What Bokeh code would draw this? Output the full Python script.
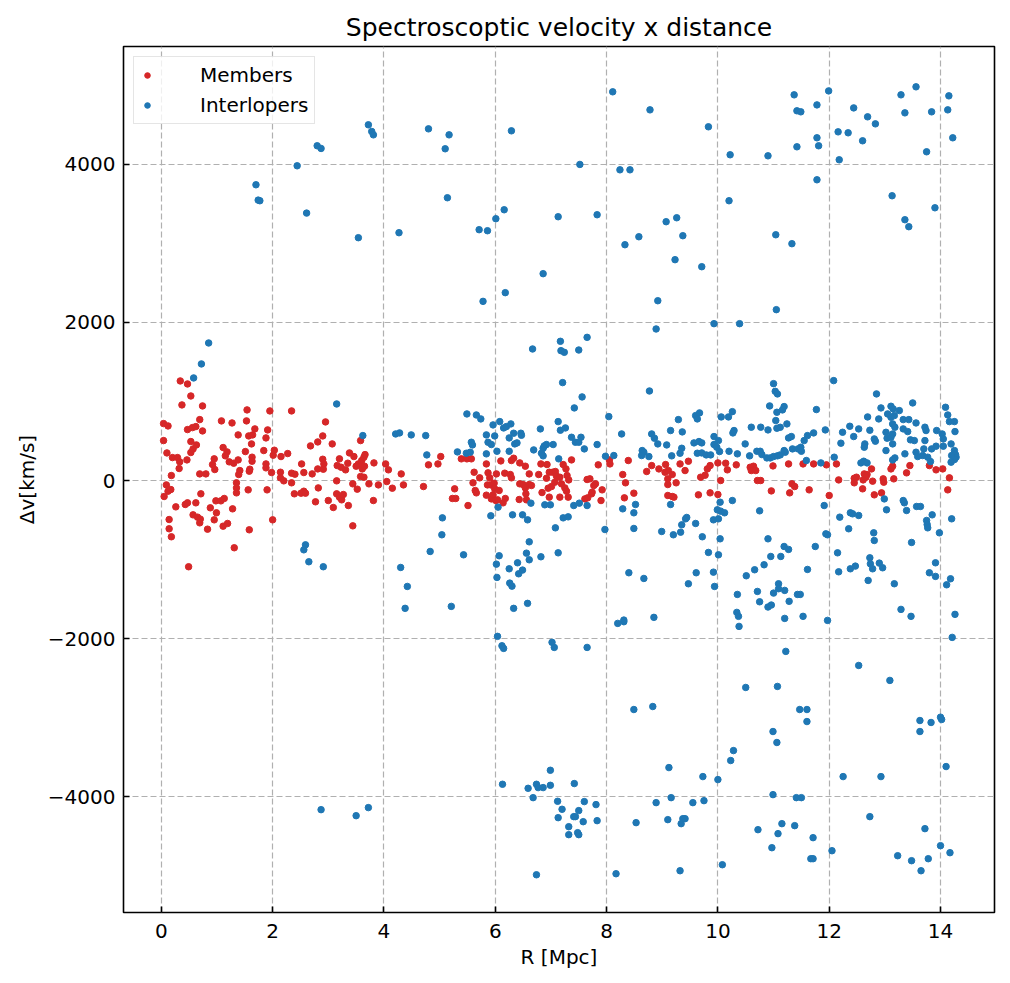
from bokeh.plotting import figure
from bokeh.models import Range1d, FixedTicker
from bokeh.embed import file_html
from bokeh.resources import INLINE

# ---- data ----
members = [
    (0.34,1259),(0.47,1221),(0.53,1069),(0.37,956),(0.74,943),(0.04,720),(0.12,690),(0.69,770),
    (0.47,644),(0.56,669),(0.62,682),(0.74,627),(1.08,754),(1.27,728),(1.53,754),(1.54,893),
    (1.95,880),(2.34,880),(1.68,653),(1.38,577),(1.57,564),(1.64,577),(1.62,463),(1.88,539),
    (1.91,640),(0.04,505),(0.10,349),(0.20,290),(0.29,290),(0.33,236),(0.32,152),(0.46,261),
    (0.53,354),(0.57,400),(0.53,493),(0.63,450),(0.18,63),(0.69,84),(0.80,84),(0.95,274),
    (0.92,202),(0.96,139),(1.11,417),(1.18,362),(1.15,312),(1.22,236),(1.30,219),(1.38,261),
    (1.41,126),(1.39,76),(1.35,-29),(1.35,-93),(1.35,-156),(1.51,366),(1.63,295),(1.63,244),
    (1.59,143),(1.58,118),(1.56,-118),(1.84,379),(1.88,210),(1.88,160),(1.98,101),(1.90,-118),
    (2.01,320),(2.03,383),(2.15,303),(2.27,341),(2.14,105),(2.14,34),(2.20,-4),(2.34,93),
    (2.40,80),(2.34,-29),(2.52,210),(2.56,101),(2.39,-168),(2.51,-160),(2.56,-135),(2.59,-160),
    (0.09,-55),(0.17,-114),(0.12,-135),(0.05,-202),(0.26,-333),(0.43,-303),(0.47,-282),(0.62,-282),
    (0.71,-168),(0.57,-434),(0.65,-463),(0.70,-488),(0.69,-535),(0.88,-345),(0.99,-408),(0.95,-497),
    (0.83,-615),(0.98,-257),(1.07,-257),(1.13,-227),(1.11,-577),(1.19,-543),(1.28,-358),(1.31,-850),
    (1.58,-623),(2.00,-497),(0.14,-493),(0.14,-610),(0.18,-711),(0.49,-1090),(2.68,438),(2.81,488),
    (2.90,564),(2.95,741),(3.07,463),(2.90,269),(2.92,210),(2.91,143),(2.81,147),(2.71,84),
    (3.15,-4),(3.16,189),(3.20,274),(3.23,168),(3.31,135),(3.38,349),(3.35,219),(2.82,-93),
    (3.00,-253),(3.15,-168),(3.20,-210),(3.24,-244),(3.27,-177),(3.09,-341),(3.36,-316),(2.77,-269),
    (3.44,-42),(3.44,-573),
    (3.46,303),(3.54,210),(3.60,253),(3.64,295),(3.66,328),(3.50,181),(3.61,147),(3.65,181),
    (3.58,51),(3.64,42),(3.52,-109),(3.58,505),(3.81,-253),(3.73,-42),(3.90,-55),(3.82,223),
    (4.03,210),(4.08,135),(4.05,-13),(4.15,-97),(4.31,84),(4.35,-55),(4.71,-76),(4.80,198),
    (4.97,210),(5.02,303),(5.39,274),(5.49,274),(5.57,274),(5.27,-105),(5.23,-227),(5.29,-227),
    (5.51,-316),(5.62,105),(5.60,-29),(5.64,-126),(5.66,-156),(5.72,34),(5.84,210),(5.87,97),
    (5.90,34),(5.86,-55),(5.92,-55),(5.98,-34),(5.84,-185),(5.93,-232),(5.96,-181),(6.01,-253),
    (6.04,-244),(5.99,-105),(6.07,-126),(6.02,84),(6.10,248),(6.17,93),(6.18,-227),(6.14,-282),
    (6.29,253),(6.33,282),(6.27,76),(6.29,34),(6.44,223),(6.54,181),(6.61,84),(6.44,-42),
    (6.50,-51),(6.54,-93),(6.61,-51),(6.65,-63),(6.55,-168),(6.56,-244),(6.43,-240),(6.78,76),
    (6.82,210),(6.93,202),(6.97,105),(6.92,29),(6.84,-152),(6.95,-97),(7.01,-76),(6.97,-210),
    (7.03,105),(7.08,114),(7.10,55),(7.07,-21),(7.16,42),(7.19,-42),(7.22,202),(7.27,147),
    (7.29,63),(7.25,-93),(7.28,-135),(7.31,-210),(7.16,-210),(7.37,261),(7.32,8),
    (7.65,13),(7.70,21),(7.61,-232),(7.66,-219),(7.73,-168),(7.77,-63),(7.80,-42),(7.74,-147),
    (7.92,-118),(7.90,-253),(7.85,198),(8.05,261),(8.06,210),(8.39,253),(8.29,76),(8.34,-29),
    (8.32,-219),(8.49,-160),(8.72,114),(8.81,189),(8.94,147),(9.06,202),(9.05,105),(9.11,126),
    (9.18,76),(9.10,21),(9.10,-51),(9.25,-29),(9.32,210),(9.41,126),(9.47,244),(9.10,-189),
    (9.18,-202),(9.21,-210),(9.65,-181),(9.86,-156),(10.00,-177),(9.69,42),(9.77,67),(9.81,147),
    (9.86,189),(10.00,223),(10.05,0),(10.14,219),(10.17,135),(10.33,198),(10.58,168),(10.64,181),
    (10.60,126),(10.68,126),(10.71,0),(10.77,0),(10.96,-131),(10.99,185),(11.27,210),(11.33,-42),
    (11.38,-76),(11.29,-156),
    (11.53,210),(11.64,-118),(11.72,210),(11.95,198),(12.13,210),(12.00,-189),(12.17,8),(12.45,29),
    (12.49,42),(12.45,-29),(12.63,84),(12.68,76),(12.66,42),(12.76,147),(12.61,8),(12.78,-8),
    (12.60,-105),(12.81,-181),(12.94,-156),(12.97,21),(12.98,-21),(13.16,21),(13.11,147),(13.14,181),
    (13.39,97),(13.45,189),(13.80,189),(13.92,135),(14.04,147),(14.16,34),(14.13,-118),
]

interlopers = [
    (0.85,1739),(0.72,1474),(0.58,1297),(3.15,968),(2.59,-813),(2.56,-876),(2.65,-1027),(2.91,-1090),
    (5.78,2265),(3.62,568),(4.21,589),(4.28,602),(4.49,577),(4.75,568),(4.77,324),(5.49,842),
    (5.66,829),(5.74,779),(5.84,577),(5.96,703),(6.08,745),(6.15,665),(6.20,682),(6.28,716),
    (6.33,598),(6.46,598),(6.47,572),(6.25,539),(5.87,484),(5.93,455),(5.99,564),(6.03,370),
    (6.25,370),(6.35,463),(6.39,476),(6.67,1663),(6.69,387),(6.81,653),(6.86,408),(6.88,438),
    (6.92,455),(7.04,455),(6.83,345),(6.86,312),(7.13,745),(7.17,636),(7.26,665),(7.17,1760),
    (7.18,1642),(7.24,1621),(7.21,1238),(7.50,1650),(7.42,918),(7.37,547),(7.44,484),(7.50,484),
    (7.14,274),(5.32,362),(5.48,345),(5.57,484),(5.59,450),(5.55,358),(5.84,337),(6.05,-337),
    (5.92,-446),(6.31,-434),(6.49,-434),(6.58,-497),(6.64,-286),(6.89,-307),(6.99,-307),(7.08,-598),
    (7.22,-472),(7.31,-459),(7.41,-316),(7.51,-286),(5.05,-472),(5.04,-686),(4.83,-897),(4.30,-1099),
    (4.42,-1339),(5.43,-939),(6.07,-951),(6.02,-1057),(6.03,-1225),(6.25,-1116),(6.26,-1297),(6.30,-1335),
    (6.40,-1040),(6.42,-1179),(6.49,-1132),(6.56,-918),(6.61,-1002),(6.61,-775),(6.82,-964),(7.13,-914),
    (8.92,2273),(8.89,1916),(7.65,1810),(7.56,1057),(8.04,808),(8.77,1132),(9.93,1983),(10.39,1983),
    (11.05,2160),(11.00,1225),(11.03,1128),(11.07,1095),(10.93,943),(11.19,935),(11.06,863),(11.16,893),
    (11.04,758),(11.24,716),(11.12,673),(11.06,661),(11.27,539),(11.32,556),(8.27,589),(8.81,589),
    (8.86,535),(8.92,463),(9.15,632),(9.29,770),(9.36,615),(9.08,450),(9.35,408),(9.32,345),
    (9.17,312),(8.64,379),(8.67,358),(8.63,316),(8.76,303),(8.13,316),(7.98,307),(7.83,455),
    (7.54,547),(7.60,400),(9.60,821),(9.67,855),(9.63,779),(9.57,476),(9.66,493),(9.71,476),
    (9.63,345),(9.71,349),(9.79,324),(9.87,324),(9.93,556),(9.93,455),(10.01,505),(9.98,421),
    (10.03,366),(10.06,804),(10.19,804),(10.26,871),(10.29,632),(10.27,602),(10.20,370),(10.35,337),
    (10.49,463),(10.57,312),(10.60,674),(10.77,674),(10.90,640),(10.70,370),(10.76,370),(10.79,328),
    (10.88,286),(10.94,286),(11.00,303),(11.07,312),(11.12,324),(11.21,358),(11.19,379),(11.34,400),
    (11.44,400),(7.65,-316),(7.97,-619),(8.29,-358),(8.49,-408),(8.52,-303),(8.49,-606),(8.40,-1166),
    (8.67,-1238),(8.99,-644),(9.15,-303),(9.20,-686),(9.33,-653),(9.35,-560),(9.42,-484),(9.44,-467),
    (9.60,-543),(9.72,-711),(9.83,-909),(9.92,-497),(10.01,-484),(9.99,-370),(10.05,-387),(10.12,-408),
    (10.04,-274),(10.26,-253),(10.04,-737),(10.01,-939),(9.92,-1158),(9.94,-1339),(9.61,-1166),(9.47,-1305),
    (10.35,-1440),(10.51,-1204),(10.66,-1128),(10.71,-1402),(10.83,-1065),(10.95,-960),(11.13,-960),(10.90,-737),
    (10.75,-383),(11.19,-834),(11.27,-871),(11.00,-1423),(11.09,-1305),(11.09,-1368),(11.20,-1389),(11.43,-1440),
    (12.08,1263),(11.77,897),(12.85,1095),(13.50,981),(13.11,939),(12.93,918),(13.05,842),(13.15,905),
    (13.26,884),(13.17,821),(13.11,800),(12.89,779),(12.69,804),(13.33,770),(13.43,770),(13.56,728),
    (13.14,716),(13.18,674),(13.33,653),(13.41,619),(13.46,514),(13.53,505),(13.72,674),(13.74,632),
    (13.93,632),(14.09,926),(14.13,829),(14.16,745),(14.25,745),(14.26,619),(14.03,589),(14.05,526),
    (14.19,463),(14.25,379),(14.27,328),(14.28,295),(14.25,265),(14.19,232),(14.20,316),(14.05,434),
    (13.92,434),(13.84,400),(13.72,505),(13.70,400),(13.68,316),(13.77,295),(13.82,240),(13.56,358),
    (13.59,303),(13.36,337),(13.18,286),(13.14,261),(13.02,610),(13.04,535),(13.11,547),(13.14,463),
    (13.14,589),(13.02,379),(12.81,526),(12.83,497),(12.64,463),(12.63,421),(12.73,636),(12.53,653),
    (12.37,686),(12.24,610),(12.44,556),(12.21,472),(12.09,295),(12.57,223),(12.62,244),(12.68,223),
    (11.93,640),(11.72,602),(11.61,568),(11.55,505),(11.49,421),(11.50,370),(11.85,223),(11.59,253),
    (11.91,-316),(11.94,-674),(11.97,-686),(11.75,-834),(11.61,-1124),(11.48,-1440),(12.19,-463),(12.38,-408),
    (12.42,-421),(12.53,-442),(12.35,-610),(12.15,-914),(12.17,-1154),(12.38,-1116),(12.47,-1082),(12.73,-977),
    (12.74,-1053),(12.78,-1116),(12.70,-1263),(12.90,-1044),(12.96,-1103),(12.80,-661),(12.81,-758),(12.99,-232),
    (13.03,-370),(13.33,-253),(13.35,-282),(13.39,-379),(13.57,-328),(13.64,-328),(13.48,-783),(13.17,-1305),
    (13.75,-505),(13.76,-556),(13.77,-598),(13.85,-434),(13.98,-661),(14.20,-484),(13.91,-1040),(13.80,-1166),
    (13.91,-1212),(14.11,-1318),(14.18,-1242),
    (1.70,3739),(1.74,3545),(1.77,3537),(2.44,3979),(2.61,3381),(2.80,4232),(2.87,4198),(3.54,3070),
    (3.72,4497),(3.78,4413),(3.81,4370),(4.27,3133),(4.80,4446),(5.10,4194),(5.17,4370),(5.14,3575),
    (5.71,3171),(5.86,3158),(6.01,3310),(6.16,3423),(6.29,4421),(7.13,3335),(6.86,2615),(6.18,2375),
    (7.52,3996),(7.83,3360),(8.11,4914),(8.24,3928),(8.42,3928),(8.78,4686),(8.33,2981),(8.58,3082),
    (9.07,3272),(9.26,3322),(9.37,3095),(9.23,2792),(9.71,2703),(9.83,4472),(10.22,4118),(10.20,3537),
    (10.90,4105),(11.04,3107),(11.33,2994),(11.37,4876),(11.42,4674),(11.49,4661),(11.78,4749),(11.78,4333),
    (11.81,4232),(11.42,4219),(11.78,3802),(11.99,4926),(12.16,4408),(12.18,4055),(12.34,4396),(12.44,4711),
    (12.69,4598),(12.83,4509),(12.60,4295),(13.13,3600),(13.29,4876),(13.56,4977),(13.36,4648),(13.84,4661),
    (14.15,4863),(14.13,4686),(14.22,4333),(13.75,4156),(13.90,3448),(13.36,3297),(13.43,3209),
    (4.38,-1616),(5.21,-1591),(6.33,-1616),(6.58,-1553),(6.04,-1970),(6.12,-2089),(6.15,-2122),(7.02,-2046),
    (7.06,-2110),(2.87,-4161),(3.50,-4237),(3.72,-4135),(6.13,-3840),(6.59,-3891),(6.74,-3840),(6.77,-3882),
    (6.86,-3882),(6.99,-3663),(6.99,-3853),(6.68,-4009),(7.12,-4055),(7.13,-4262),(6.74,-4984),
    (10.75,-1533),(10.90,-1599),(10.96,-1574),(11.28,-1527),(10.34,-1667),(10.37,-1717),(10.38,-1844),(11.20,-1743),
    (11.53,-1717),(11.97,-1768),(13.29,-1629),(13.47,-1717),(14.26,-1692),(14.21,-1983),(8.20,-1806),(8.31,-1785),
    (8.31,-1764),(8.85,-1730),(7.65,-2110),(11.22,-2160),(12.53,-2338),(13.09,-2527),(10.50,-2616),(11.07,-2603),
    (8.49,-2895),(8.83,-2857),(11.47,-2895),(11.60,-2895),(11.60,-3047),(13.63,-3034),(13.83,-3059),(14.00,-2992),
    (14.02,-3021),(13.63,-3173),(10.99,-3173),(11.06,-3312),(10.28,-3414),(10.23,-3540),(9.12,-3629),(9.73,-3743),
    (10.00,-3781),(12.25,-3743),(12.93,-3743),(14.10,-3616),(7.42,-3831),(7.20,-4156),(7.60,-4059),(7.81,-4097),
    (7.50,-4173),(7.41,-4249),(7.44,-4249),(7.58,-4313),(7.83,-4300),(7.32,-4376),(7.32,-4477),(7.48,-4452),
    (7.50,-4477),(8.53,-4325),(8.89,-4072),(9.16,-4009),(9.10,-4287),(9.34,-4338),(9.37,-4275),(9.41,-4275),
    (9.55,-4072),(9.75,-4047),(8.17,-4971),(9.32,-4933),(10.08,-4857),(10.99,-3971),(11.41,-4009),(11.50,-4009),
    (10.72,-4414),(11.15,-4338),(11.38,-4363),(11.08,-4464),(10.97,-4642),(11.71,-4515),(11.67,-4781),(11.71,-4781),
    (12.05,-4680),(12.73,-4249),(13.72,-4401),(13.23,-4743),(13.48,-4806),(13.78,-4781),(13.65,-4933),(14.00,-4616),
    (14.17,-4705),
]

members_r = [p[0] for p in members]
members_dv = [p[1] for p in members]
inter_r = [p[0] for p in interlopers]
inter_dv = [p[1] for p in interlopers]

x_ticks = [0, 2, 4, 6, 8, 10, 12, 14]
y_ticks = [-4000, -2000, 0, 2000, 4000]
y_tick_labels = {-4000: "\u22124000", -2000: "\u22122000", 0: "0", 2000: "2000", 4000: "4000"}

FONT = "DejaVu Sans"

p = figure(width=1002, height=977, output_backend="svg", toolbar_location=None,
           x_range=Range1d(-0.68, 14.97), y_range=Range1d(-5461, 5487),
           title="Spectroscoptic velocity x distance")
p.min_border_left = 123
p.min_border_right = 8
p.min_border_top = 46
p.min_border_bottom = 65

p.title.text_font = FONT
p.title.text_font_size = "25px"
p.title.text_font_style = "normal"
p.title.text_color = "black"
p.title.align = "center"

p.scatter(members_r, members_dv, size=6.5, fill_color="#d62728", line_color="#d62728",
          legend_label="Members")
p.scatter(inter_r, inter_dv, size=6.5, fill_color="#1f77b4", line_color="#1f77b4",
          legend_label="Interlopers")

p.xaxis.ticker = FixedTicker(ticks=x_ticks)
p.yaxis.ticker = FixedTicker(ticks=y_ticks)
p.yaxis.major_label_overrides = y_tick_labels

for ax in (p.xaxis[0], p.yaxis[0]):
    ax.axis_line_color = None
    ax.major_tick_in = 6
    ax.major_tick_out = 0
    ax.major_tick_line_width = 1.6
    ax.major_tick_line_color = "black"
    ax.minor_tick_line_color = None
    ax.major_label_text_font = FONT
    ax.major_label_text_font_size = "20px"
    ax.major_label_text_color = "black"
    ax.axis_label_text_font = FONT
    ax.axis_label_text_font_size = "20px"
    ax.axis_label_text_font_style = "normal"
    ax.axis_label_text_color = "black"

p.xaxis.axis_label = "R [Mpc]"
p.yaxis.axis_label = "\u0394v[km/s]"
p.xaxis.major_label_standoff = 11
p.yaxis.major_label_standoff = 8
p.xaxis.axis_label_standoff = 4
p.yaxis.axis_label_standoff = 6

p.grid.grid_line_color = "#b0b0b0"
p.grid.grid_line_dash = "6 3"
p.grid.grid_line_width = 1.2

p.outline_line_color = "black"
p.outline_line_width = 1.6
p.outline_line_alpha = 1.0

lg = p.legend[0]
lg.location = "top_left"
lg.margin = 10
lg.padding = 6
lg.spacing = 6
lg.glyph_width = 14
lg.glyph_height = 24
lg.label_height = 24
lg.label_standoff = 46
lg.label_text_font = FONT
lg.label_text_font_size = "20px"
lg.label_text_color = "black"
lg.border_line_color = "#cccccc"
lg.border_line_width = 1.2
lg.background_fill_alpha = 0.8

open("out.html", "w").write(file_html(p, INLINE))
